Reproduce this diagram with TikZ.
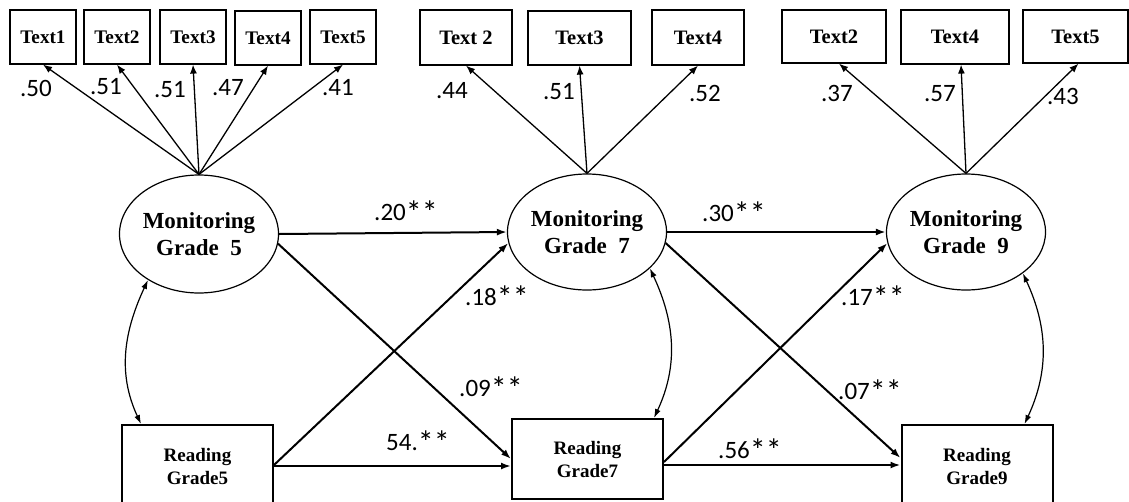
\documentclass[tikz,border=0pt]{standalone}
\usepackage{fontspec}
\setmainfont{Liberation Serif}
\newfontfamily\numfont{Carlito}
\usetikzlibrary{arrows.meta,shapes.geometric,calc}
\newcommand\sgst{\raisebox{-3pt}{\fontsize{32}{32}\selectfont**}}
\tikzset{
  ind/.style={draw, line width=1.2pt, inner sep=0pt, minimum height=54pt, font=\bfseries\fontsize{20.5}{22}\selectfont},
  indsm/.style={ind, font=\bfseries\fontsize{19.2}{21}\selectfont},
  lat/.style={draw, ellipse, line width=1.2pt, inner sep=0pt, minimum width=148pt, minimum height=118pt, align=center, font=\bfseries\fontsize{23}{27}\selectfont},
  rd/.style={draw, line width=2pt, inner sep=0pt, minimum width=151pt, align=center, font=\bfseries\fontsize{19}{23}\selectfont},
  ld/.style={line width=1.3pt, -{Latex[length=9pt,width=7pt]}},
  path/.style={line width=2pt, -{Latex[length=10pt,width=7pt]}},
  cov/.style={line width=1.2pt, {Latex[length=9pt,width=6pt]}-{Latex[length=9pt,width=6pt]}},
  lab/.style={inner sep=0pt, font=\numfont\fontsize{25}{25}\selectfont}
}
\begin{document}
\begin{tikzpicture}[x=1pt,y=-1pt]
\useasboundingbox[fill=white] (0,0) rectangle (1129,501);
% top indicator boxes
\node[indsm, minimum width=66pt] (a1) at (43,37) {Text1};
\node[indsm, minimum width=66pt] (a2) at (117,37) {Text2};
\node[indsm, minimum width=66pt] (a3) at (193,37) {Text3};
\node[indsm, minimum width=66pt] (a4) at (268,38) {Text4};
\node[indsm, minimum width=66pt] (a5) at (343,37) {Text5};
\node[ind, minimum width=92pt, minimum height=55pt] (b1) at (466,37.5) {Text 2};
\node[ind, minimum width=103pt, minimum height=54pt] (b2) at (579.5,38) {Text3};
\node[ind, minimum width=92pt, minimum height=55pt] (b3) at (698,37.5) {Text4};
\node[ind, minimum width=104pt, minimum height=53pt] (c1) at (834,36.5) {Text2};
\node[ind, minimum width=108pt, minimum height=54pt] (c2) at (955,37) {Text4};
\node[ind, minimum width=105pt, minimum height=53pt] (c3) at (1075.5,36.5) {Text5};
% latent variables
\node[lat] (e5) at (199,234) {\raisebox{0pt}[0pt][0pt]{}Monitoring\\Grade\enspace5};
\node[lat, minimum height=116pt] (e7) at (587,232) {Monitoring\\Grade\enspace7};
\node[lat, minimum width=146pt, minimum height=116pt] (e9) at (966,232) {Monitoring\\Grade\enspace9};
% reading boxes
\node[rd, minimum height=82pt] (r5) at (197.5,466) {Reading\\Grade5};
\node[rd, minimum height=80pt] (r7) at (587.5,459) {Reading\\Grade7};
\node[rd, minimum height=82pt] (r9) at (977,466) {Reading\\Grade9};
% loadings
\foreach \t in {a1,a2,a3,a4,a5} \draw[ld] (e5.north) -- (\t.south);
\foreach \t in {b1,b2,b3} \draw[ld] (e7.north) -- (\t.south);
\draw[ld] (e9.north) -- ([xshift=5pt]c1.south);
\draw[ld] (e9.north) -- ([xshift=6pt]c2.south);
\draw[ld] (e9.north) -- ([xshift=3pt]c3.south);
\node[lab] (l1) at (36,88) {.50};
\node[lab] (l2) at (106,87) {.51};
\node[lab] (l3) at (170,90) {.51};
\node[lab] (l4) at (228,88) {.47};
\node[lab] (l5) at (338,88) {.41};
\node[lab] (l6) at (452,91) {.44};
\node[lab] (l7) at (559,92) {.51};
\node[lab] (l8) at (705,93) {.52};
\node[lab] (l9) at (837,93) {.37};
\node[lab] (l10) at (940,94) {.57};
\node[lab] (l11) at (1063,96) {.43};
% structural paths
\draw[path] (e5.east) -- (e7.west);
\draw[path] (e7.east) -- (e9.west);
\draw[path] (r5.east) -- (r5.east -| r7.west);
\draw[path] ([yshift=-6pt]r7.east) -- ([yshift=-6pt]r7.east -| r9.west);
\draw[path] (e5.-7) -- (r7.west);
\draw[path] ([yshift=1pt]r5.east) -- (e7.188);
\draw[path] (e7.-8) -- ([yshift=8pt]r9.west);
\draw[path] ([yshift=-3pt]r7.east) -- (e9.188);
% covariances
\draw[cov] (e5.222) to[out=245,in=115] ([xshift=20pt]r5.north west);
\draw[cov] (e7.-30) to[out=-65,in=65] ([xshift=-10pt]r7.north east);
\draw[cov] (e9.-36) to[out=-65,in=65] ([xshift=-29pt]r9.north east);
% path labels
\node[lab] (p1) at (406,212) {.20\sgst};
\node[lab] (p2) at (497,297) {.18\sgst};
\node[lab] (p3) at (491,388) {.09\sgst};
\node[lab] (p4) at (418,442) {54.\sgst};
\node[lab] (p5) at (734,213) {.30\sgst};
\node[lab] (p6) at (873,297) {.17\sgst};
\node[lab] (p7) at (870,391) {.07\sgst};
\node[lab] (p8) at (750,450) {.56\sgst};
\end{tikzpicture}
\end{document}
